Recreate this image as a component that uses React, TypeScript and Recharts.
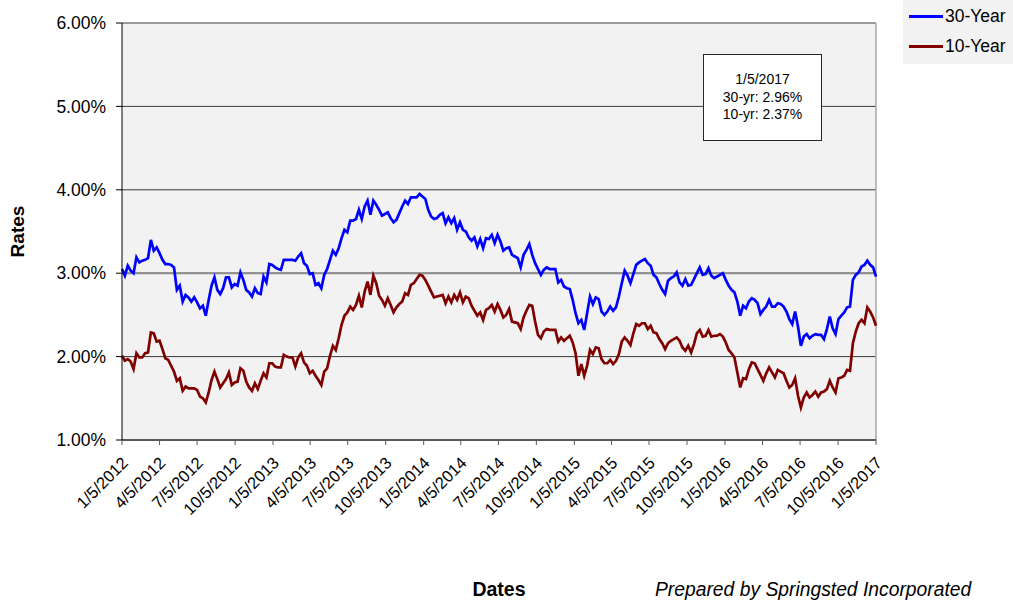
import { CartesianGrid, Label, Legend, Line, LineChart, ReferenceLine, XAxis, YAxis } from 'recharts'

const FONT = '"Liberation Sans", Arial, Helvetica, sans-serif'
const START = Date.UTC(2012, 0, 5)
const DAY_MS = 86400000

// quarterly tick labels on the date axis
const TICK_LABELS = [
  '1/5/2012', '4/5/2012', '7/5/2012', '10/5/2012',
  '1/5/2013', '4/5/2013', '7/5/2013', '10/5/2013',
  '1/5/2014', '4/5/2014', '7/5/2014', '10/5/2014',
  '1/5/2015', '4/5/2015', '7/5/2015', '10/5/2015',
  '1/5/2016', '4/5/2016', '7/5/2016', '10/5/2016',
  '1/5/2017',
]
const Y_TICKS = [1, 2, 3, 4, 5, 6]
const SERIES_NAMES = ['30-Year', '10-Year']

// weekly 30-year rates (%), starting 1/5/2012
const thirty2012 = [
  3.05, 2.97, 3.09, 3.03, 3.0, 3.19, 3.13, 3.15, 3.16, 3.18,
  3.4, 3.27, 3.31, 3.24, 3.16, 3.11, 3.11, 3.1, 3.07, 2.8,
  2.85, 2.66, 2.74, 2.71, 2.66, 2.71, 2.65, 2.58, 2.61, 2.49,
  2.68, 2.85, 2.95, 2.8, 2.75, 2.82, 2.95, 2.95, 2.83, 2.87,
  2.85, 3.01, 2.92, 2.8, 2.77, 2.72, 2.82, 2.76, 2.75, 2.96,
  2.89, 3.11,
]
const thirty2013 = [
  3.1, 3.07, 3.05, 3.04, 3.16, 3.16, 3.16, 3.16,
  3.15, 3.2, 3.24, 3.12, 3.09, 2.99, 3.0, 2.86, 2.88, 2.82,
  2.98, 3.05, 3.16, 3.27, 3.22, 3.3, 3.42, 3.52, 3.49, 3.63,
  3.63, 3.65, 3.76, 3.65, 3.8, 3.87, 3.7, 3.87, 3.82, 3.76,
  3.69, 3.71, 3.73, 3.66, 3.61, 3.64, 3.72, 3.8, 3.87, 3.83,
  3.91, 3.91, 3.91, 3.95,
]
const thirty2014 = [
  3.92, 3.89, 3.76, 3.68, 3.65, 3.66,
  3.7, 3.72, 3.6, 3.67, 3.6, 3.66, 3.52, 3.61, 3.52, 3.5,
  3.43, 3.39, 3.43, 3.32, 3.41, 3.3, 3.42, 3.41, 3.46, 3.36,
  3.46, 3.38, 3.27, 3.3, 3.31, 3.22, 3.2, 3.18, 3.07, 3.22,
  3.28, 3.35, 3.22, 3.12, 3.05, 2.98, 3.04, 3.07, 3.05, 3.05,
  3.05, 2.89, 2.92, 2.84, 2.82, 2.81,
]
const thirty2015 = [
  2.68, 2.52, 2.4, 2.44,
  2.32, 2.52, 2.72, 2.63, 2.71, 2.69, 2.54, 2.5, 2.54, 2.6,
  2.55, 2.59, 2.72, 2.88, 3.03, 2.97, 2.88, 2.99, 3.1, 3.13,
  3.15, 3.17, 3.12, 3.09, 2.98, 2.95, 2.87, 2.8, 2.75, 2.91,
  2.94, 2.96, 3.01, 2.89, 2.85, 2.93, 2.85, 2.86, 2.93, 3.0,
  3.07, 2.98, 2.99, 3.06, 2.97, 2.94, 2.96, 2.98,
]
const thirty2016 = [
  3.0, 2.92,
  2.85, 2.8, 2.77, 2.66, 2.49, 2.61, 2.58, 2.66, 2.7, 2.68,
  2.64, 2.51, 2.56, 2.6, 2.68, 2.6, 2.6, 2.64, 2.63, 2.6,
  2.54, 2.45, 2.39, 2.54, 2.36, 2.13, 2.24, 2.27, 2.22, 2.25,
  2.27, 2.26, 2.26, 2.21, 2.33, 2.48, 2.34, 2.27, 2.45, 2.49,
  2.53, 2.59, 2.6, 2.92, 2.98, 3.01, 3.08, 3.1, 3.15, 3.1,
  3.07, 2.96,
]

// weekly 10-year rates (%)
const ten2012 = [
  2.01, 1.95, 1.97, 1.94, 1.85, 2.04, 1.99, 1.99, 2.04, 2.05,
  2.29, 2.28, 2.18, 2.19, 2.09, 1.98, 1.96, 1.89, 1.82, 1.71,
  1.74, 1.59, 1.64, 1.62, 1.62, 1.62, 1.6, 1.52, 1.5, 1.45,
  1.57, 1.72, 1.82, 1.73, 1.63, 1.68, 1.73, 1.81, 1.66, 1.69,
  1.7, 1.86, 1.83, 1.7, 1.63, 1.59, 1.68, 1.61, 1.71, 1.8,
  1.75, 1.92,
]
const ten2013 = [
  1.92, 1.88, 1.87, 1.87, 2.02, 2.0, 1.99, 1.99,
  1.88, 1.99, 2.04, 1.93, 1.89, 1.8, 1.83, 1.77, 1.72, 1.66,
  1.82, 1.86, 2.01, 2.13, 2.08, 2.22, 2.38, 2.49, 2.53, 2.6,
  2.56, 2.62, 2.73, 2.59, 2.78, 2.9, 2.74, 2.97, 2.88, 2.73,
  2.68, 2.61, 2.7, 2.62, 2.53, 2.59, 2.63, 2.66, 2.76, 2.74,
  2.86, 2.88, 2.93, 2.98,
]
const ten2014 = [
  2.97, 2.92, 2.85, 2.78, 2.71, 2.72,
  2.73, 2.74, 2.64, 2.72, 2.65, 2.74, 2.68, 2.77, 2.65, 2.72,
  2.7, 2.61, 2.55, 2.49, 2.53, 2.44, 2.56, 2.58, 2.62, 2.54,
  2.63, 2.56, 2.47, 2.5, 2.57, 2.42, 2.41, 2.4, 2.33, 2.47,
  2.55, 2.62, 2.61, 2.42, 2.26, 2.22, 2.3, 2.33, 2.32, 2.32,
  2.32, 2.18, 2.23, 2.19, 2.22, 2.25,
]
const ten2015 = [
  2.17, 2.04, 1.77, 1.91,
  1.77, 1.89, 2.08, 2.03, 2.11, 2.1, 1.97, 1.92, 1.92, 1.96,
  1.91, 1.95, 2.03, 2.18, 2.23, 2.19, 2.14, 2.28, 2.39, 2.37,
  2.4, 2.4, 2.33, 2.37, 2.29, 2.28, 2.21, 2.16, 2.09, 2.16,
  2.19, 2.21, 2.23, 2.19, 2.11, 2.07, 2.13, 2.05, 2.15, 2.28,
  2.32, 2.24, 2.25, 2.32, 2.24, 2.25, 2.25, 2.27,
]
const ten2016 = [
  2.24, 2.17,
  2.08, 2.04, 1.99, 1.81, 1.63, 1.74, 1.73, 1.85, 1.93, 1.92,
  1.85, 1.78, 1.71, 1.8, 1.87, 1.81, 1.75, 1.84, 1.82, 1.8,
  1.71, 1.63, 1.66, 1.74, 1.53, 1.39, 1.51, 1.57, 1.51, 1.54,
  1.58, 1.52, 1.57, 1.58, 1.61, 1.71, 1.63, 1.57, 1.74, 1.75,
  1.77, 1.84, 1.83, 2.16, 2.3, 2.4, 2.44, 2.4, 2.59, 2.54,
  2.47, 2.37,
]

const rates30 = [...thirty2012, ...thirty2013, ...thirty2014, ...thirty2015, ...thirty2016]
const rates10 = [...ten2012, ...ten2013, ...ten2014, ...ten2015, ...ten2016]

const toDay = (label: string) => {
  const [m, d, y] = label.split('/').map(Number)
  return Math.round((Date.UTC(y, m - 1, d) - START) / DAY_MS)
}
const TICK_DAYS = TICK_LABELS.map(toDay)
const LAST_DAY = TICK_DAYS[TICK_DAYS.length - 1]

const chartData = rates30.map((v, i) => ({ day: i * 7, thirty: v, ten: rates10[i] }))

function DateTick({ x, y, payload }: { x?: number; y?: number; payload?: { value: number } }) {
  const idx = TICK_DAYS.indexOf(payload?.value ?? -1)
  const ax = (x ?? 0) + 7
  const ay = (y ?? 0) + 17
  return (
    <text x={ax} y={ay} transform={`rotate(-45 ${ax} ${ay})`} textAnchor="end" fontSize={16.5} fill="#000" fontFamily={FONT}>
      {idx >= 0 ? TICK_LABELS[idx] : ''}
    </text>
  )
}

function RatesLabel({ viewBox }: { viewBox?: { y: number; height: number } }) {
  const cy = (viewBox?.y ?? 0) + (viewBox?.height ?? 0) / 2
  return (
    <text x={24} y={cy} transform={`rotate(-90 24 ${cy})`} textAnchor="middle" fontSize={19} fontWeight="bold" fill="#000" fontFamily={FONT}>
      Rates
    </text>
  )
}

function LegendBox({ payload }: { payload?: { value: string; color?: string }[] }) {
  const items = [...(payload ?? [])].sort((a, b) => SERIES_NAMES.indexOf(a.value) - SERIES_NAMES.indexOf(b.value))
  return (
    <div style={{ background: '#f2f2f2', width: 110, height: 64, position: 'relative', fontFamily: FONT }}>
      {items.map((entry, i) => (
        <div key={entry.value} style={{ position: 'absolute', left: 6, top: 5 + i * 30, height: 22, display: 'flex', alignItems: 'center' }}>
          <span style={{ display: 'inline-block', width: 34, height: 3, background: entry.color }} />
          <span style={{ fontSize: 17.5, color: '#000', marginLeft: 2 }}>{entry.value}</span>
        </div>
      ))}
    </div>
  )
}

export default function App() {
  return (
    <div style={{ position: 'absolute', left: 0, top: 0, width: 1013, height: 600, background: '#fff', fontFamily: FONT }}>
      <LineChart width={1013} height={600} data={chartData} margin={{ top: 23, right: 137, bottom: 0, left: 0 }}>
        <CartesianGrid vertical={false} fill="#f2f2f2" stroke="#3a3a3a" strokeWidth={1} />
        <XAxis
          dataKey="day"
          type="number"
          domain={[0, LAST_DAY]}
          ticks={TICK_DAYS}
          interval={0}
          height={160}
          tick={<DateTick />}
          tickSize={5}
          tickLine={{ stroke: '#595959' }}
          axisLine={{ stroke: '#595959', strokeWidth: 2 }}
        >
          <Label value="Dates" position="insideBottom" offset={4} style={{ fontSize: 19.5, fontWeight: 'bold', fill: '#000' }} />
        </XAxis>
        <YAxis
          type="number"
          domain={[1, 6]}
          ticks={Y_TICKS}
          width={122}
          tickSize={6}
          tickMargin={10}
          tickFormatter={(v: number) => `${v.toFixed(2)}%`}
          tick={{ fill: '#000', fontSize: 17.5 }}
          tickLine={{ stroke: '#000' }}
          axisLine={{ stroke: '#000' }}
          label={<Label content={<RatesLabel />} />}
        />
        <ReferenceLine y={3} stroke="#8c8c8c" strokeWidth={2} />
        <ReferenceLine x={LAST_DAY} stroke="#a6a6a6" strokeWidth={1.5} />
        <Legend
          layout="vertical"
          align="center"
          verticalAlign="middle"
          wrapperStyle={{ top: '0px', left: '903px', width: 110, height: 64 }}
          content={<LegendBox />}
        />
        <Line
          type="linear"
          dataKey="thirty"
          name="30-Year"
          stroke="#0000ff"
          strokeWidth={2.7}
          dot={false}
          isAnimationActive={false}
        />
        <Line
          type="linear"
          dataKey="ten"
          name="10-Year"
          stroke="#800000"
          strokeWidth={2.7}
          dot={false}
          isAnimationActive={false}
        />
      </LineChart>
      <div
        style={{
          position: 'absolute', left: 703, top: 54, width: 119, height: 87, boxSizing: 'border-box',
          border: '1px solid #262626', background: '#fff', display: 'flex', flexDirection: 'column',
          justifyContent: 'center', alignItems: 'center', fontSize: 14, lineHeight: '17.5px', color: '#000',
        }}
      >
        <div>1/5/2017</div>
        <div>30-yr: 2.96%</div>
        <div>10-yr: 2.37%</div>
      </div>
      <div style={{ position: 'absolute', left: 655, top: 580, fontSize: 19.3, lineHeight: '19px', fontStyle: 'italic', color: '#000', whiteSpace: 'nowrap' }}>
        Prepared by Springsted Incorporated
      </div>
    </div>
  )
}
